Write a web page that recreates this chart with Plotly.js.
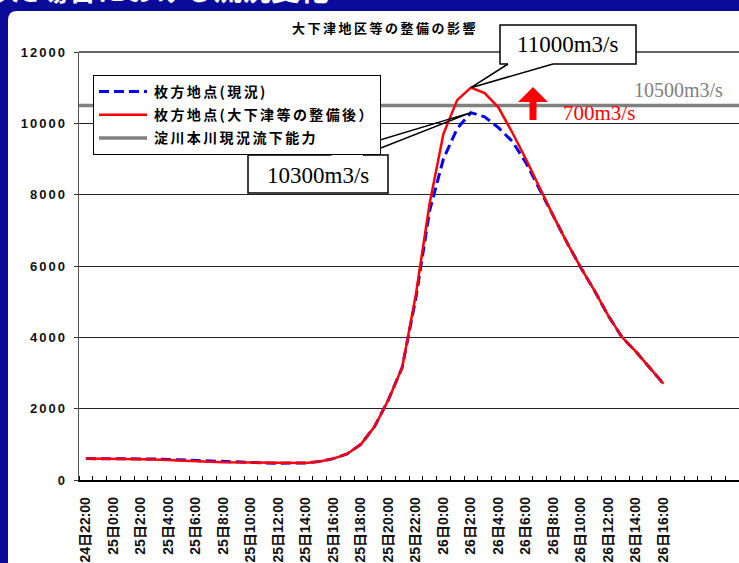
<!DOCTYPE html>
<html><head><meta charset="utf-8">
<script src="https://cdn.plot.ly/plotly-3.0.1.min.js"></script>
<style>
html,body{margin:0;padding:0;background:#fff;overflow:hidden;}
#chart{width:739px;height:563px;}
text.gtitle{letter-spacing:2.5px;}
text.legendtext{letter-spacing:2.4px;}
g.ytick text{letter-spacing:2px;}
</style></head><body><div id="chart"></div>
<script>
// ---- data ----
const times = ["24日22:00","24日23:00","25日0:00","25日1:00","25日2:00","25日3:00","25日4:00","25日5:00",
  "25日6:00","25日7:00","25日8:00","25日9:00","25日10:00","25日11:00","25日12:00","25日13:00",
  "25日14:00","25日15:00","25日16:00","25日17:00","25日18:00","25日19:00","25日20:00","25日21:00",
  "25日22:00","25日23:00","26日0:00","26日1:00","26日2:00","26日3:00","26日4:00","26日5:00",
  "26日6:00","26日7:00","26日8:00","26日9:00","26日10:00","26日11:00","26日12:00","26日13:00",
  "26日14:00","26日15:00","26日16:00"];
const flowCurrent = [600,600,600,600,600,590,575,560,540,520,510,505,495,480,470,470,
  480,520,600,730,1000,1500,2250,3150,5100,7550,9000,9850,10300,10180,9880,9500,
  8900,8150,7400,6650,5950,5300,4600,4000,3600,3150,2700];
const flowImproved = [600,600,595,590,585,575,565,550,535,515,500,495,485,475,470,470,
  480,520,600,730,1000,1500,2250,3150,5200,7750,9700,10650,11000,10850,10450,9750,
  9000,8200,7400,6650,5950,5300,4600,4000,3600,3150,2700];
const capacity = 10500;
const tickLabels = ["24日22:00","25日0:00","25日2:00","25日4:00","25日6:00","25日8:00","25日10:00",
  "25日12:00","25日14:00","25日16:00","25日18:00","25日20:00","25日22:00","26日0:00","26日2:00",
  "26日4:00","26日6:00","26日8:00","26日10:00","26日12:00","26日14:00","26日16:00"];
const yTicks = [0,2000,4000,6000,8000,10000,12000];
const yTickText = ["0","2000","4000","6000","8000","10000","12000"];
const seriesNames = ["枚方地点(現況)","枚方地点(大下津等の整備後）","淀川本川現況流下能力"];
const peakTextImproved = "11000m3/s";
const peakTextCurrent = "10300m3/s";
const capacityText = "10500m3/s";
const diffText = "700m3/s";

// ---- geometry helpers ----
const W=739,H=563,M={l:79,r:0,t:52,b:83};
const xRange=[-0.5,47.5], yRange=[0,12000];
const PW=W-M.l-M.r, PH=H-M.t-M.b;
const px = x => (x-M.l)/PW;
const py = y => (H-M.b-y)/PH;
const dx = h => (h-xRange[0])/(xRange[1]-xRange[0]);
const dy = v => (v-yRange[0])/(yRange[1]-yRange[0]);
const xIdx = times.map((t,i)=>i);
const tickVals = tickLabels.map(t=>times.indexOf(t));

const argmax = a => a.reduce((bi,v,i,arr)=>v>arr[bi]?i:bi,0);
const pkI = argmax(flowImproved), pkC = argmax(flowCurrent);
const tipI = [dx(xIdx[pkI]), dy(flowImproved[pkI])];
const tipC = [dx(xIdx[pkC]), dy(flowCurrent[pkC])];

const P = (x,y)=>`${px(x)},${py(y)}`;
const blue='#0b0b99';

const traces = [
  {x:xRange, y:[capacity,capacity], name:seriesNames[2], mode:'lines', legendrank:3, legendgroup:'c',
   line:{color:'#808080', width:3.5}, hoverinfo:'skip'},
  {x:xIdx, y:flowCurrent, name:seriesNames[0], mode:'lines', legendrank:1, legendgroup:'a',
   line:{color:'#0000ff', width:3, dash:'10px,5px'}},
  {x:xIdx, y:flowImproved, name:seriesNames[1], mode:'lines', legendrank:2, legendgroup:'b',
   line:{color:'#ff0000', width:2.5}}
];

const shapes = [
  {type:'path', xref:'paper', yref:'paper', layer:'below', line:{width:0}, fillcolor:'#ffffff',
   path:`M${P(8,20)} Q${P(8,11)} ${P(17,11)} L${P(760,11)} L${P(760,580)} L${P(8,580)} Z`},
  {type:'line', xref:'paper', yref:'paper', x0:0, x1:1, y0:1, y1:1, line:{color:'#666', width:2}},
  {type:'path', xref:'paper', yref:'paper', fillcolor:'#fff', line:{color:'#000', width:1.5},
   path:`M${P(508,64)} L${P(500,64)} L${P(500,25)} L${P(636,25)} L${P(636,64)} L${P(553,64)}`},
  {type:'path', xref:'paper', yref:'paper', line:{color:'#000', width:1.5},
   path:`M${P(508,64)} L${tipI[0]},${tipI[1]} L${P(553,64)}`},
  {type:'path', xref:'paper', yref:'paper', fillcolor:'#fff', line:{color:'#000', width:1.5},
   path:`M${P(330,155)} L${P(248,155)} L${P(248,193)} L${P(388,193)} L${P(388,155)} L${P(363,155)}`},
  {type:'path', xref:'paper', yref:'paper', line:{color:'#000', width:1.5},
   path:`M${P(330,155)} L${tipC[0]},${tipC[1]} L${P(363,155)}`},
  {type:'path', xref:'paper', yref:'paper', fillcolor:'#ff0000', line:{width:0},
   path:`M${P(533,87)} L${P(548,102)} L${P(536.5,102)} L${P(536.5,120)} L${P(529.5,120)} L${P(529.5,102)} L${P(518,102)} Z`}
];

const serif = 'Liberation Serif, Times New Roman, serif';
const annotations = [
  {text:'した場合における流況変化', xref:'paper', yref:'paper', x:px(331), y:py(11),
   xanchor:'right', yanchor:'bottom', showarrow:false,
   font:{family:'Noto Sans CJK JP', size:29, color:'#ffffff', weight:'bold'}},
  {text:peakTextImproved, xref:'paper', yref:'paper', x:px(567), y:py(45), xanchor:'center', yanchor:'middle',
   showarrow:false, font:{family:serif, size:23, color:'#000'}},
  {text:peakTextCurrent, xref:'paper', yref:'paper', x:px(318), y:py(175), xanchor:'center', yanchor:'middle',
   showarrow:false, font:{family:serif, size:23, color:'#000'}},
  {text:capacityText, xref:'paper', yref:'paper', x:px(678), y:py(90), xanchor:'center', yanchor:'middle',
   showarrow:false, font:{family:serif, size:20, color:'#808080'}},
  {text:diffText, xref:'paper', yref:'paper', x:px(599), y:py(113), xanchor:'center', yanchor:'middle',
   showarrow:false, font:{family:serif, size:21, color:'#ff0000'}}
];

const layout = {
  width:W, height:H, margin:M,
  paper_bgcolor:blue, plot_bgcolor:'rgba(0,0,0,0)',
  showlegend:true,
  title:{text:'大下津地区等の整備の影響', xref:'container', yref:'container', x:385/W, y:1-28/H,
    xanchor:'center', yanchor:'middle',
    font:{family:'Noto Sans CJK JP', size:13, weight:'bold', color:'#000'}},
  xaxis:{range:xRange, tickmode:'array', tickvals:tickVals, ticktext:tickLabels, tickangle:-90,
    ticks:'', showgrid:false, zeroline:false, showline:true, linecolor:'#000', linewidth:1.5,
    tickfont:{family:'Liberation Sans, Noto Sans CJK JP', size:14, weight:'bold', color:'#111'},
    ticklabelstandoff:10, automargin:false, fixedrange:true,
    minor:{tickmode:'linear', tick0:-0.5, dtick:1, ticks:'inside', ticklen:4, tickcolor:'#000', tickwidth:1, showgrid:false}},
  yaxis:{range:yRange, tickmode:'array', tickvals:yTicks, ticktext:yTickText, ticks:'outside', ticklen:4, tickcolor:'#333',
    showgrid:true, gridcolor:'#222', gridwidth:1, zeroline:false, showline:true, linecolor:'#555', linewidth:1.5,
    tickfont:{family:'Liberation Sans, Arial, sans-serif', size:13, weight:'bold', color:'#111'},
    ticklabelstandoff:4, automargin:false, fixedrange:true},
  legend:{x:px(93), y:py(75), xanchor:'left', yanchor:'top', bgcolor:'#fff', bordercolor:'#000', borderwidth:1,
    font:{family:'Noto Sans CJK JP', size:14, weight:'bold', color:'#000'}, itemwidth:50, tracegroupgap:2},
  shapes, annotations
};

Plotly.newPlot('chart', traces, layout, {displayModeBar:false, staticPlot:true}).then(gd=>{
  gd.querySelectorAll('.legend .legendlines path').forEach(p=>p.setAttribute('d','M5,0h48'));
});
</script></body></html>
